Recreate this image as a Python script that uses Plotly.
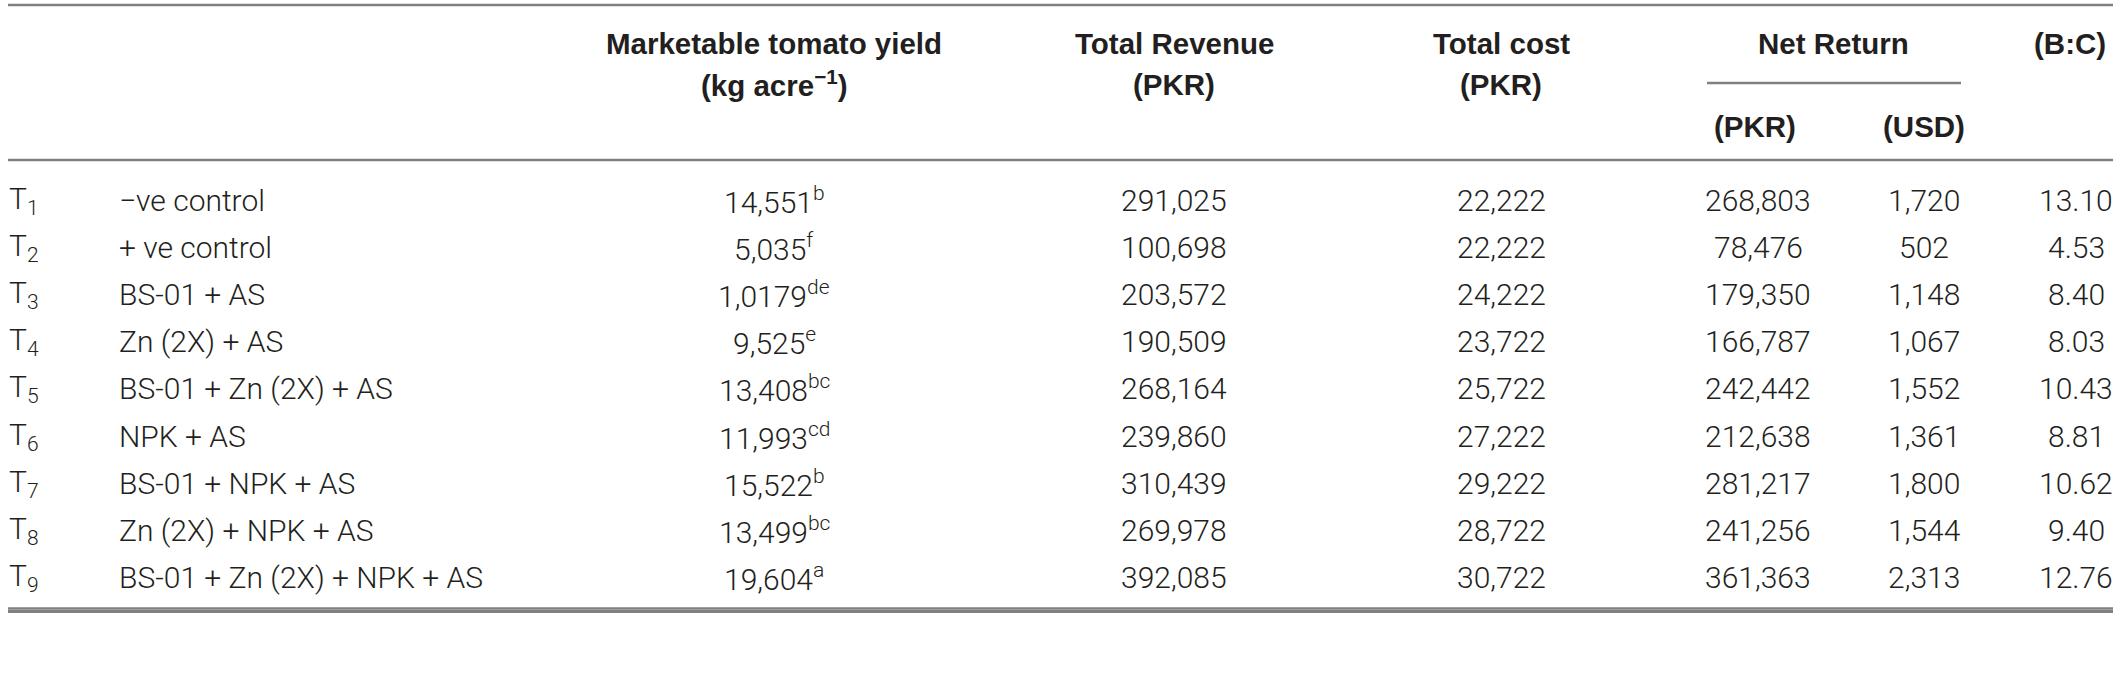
import plotly.graph_objects as go

# ---- data ----
codes = ["1", "2", "3", "4", "5", "6", "7", "8", "9"]
treatments = ["\u2212ve control", "+ ve control", "BS-01 + AS", "Zn (2X) + AS",
              "BS-01 + Zn (2X) + AS", "NPK + AS", "BS-01 + NPK + AS",
              "Zn (2X) + NPK + AS", "BS-01 + Zn (2X) + NPK + AS"]
yield_text = ["14,551", "5,035", "1,0179", "9,525", "13,408", "11,993", "15,522", "13,499", "19,604"]
yield_letters = ["b", "f", "de", "e", "bc", "cd", "b", "bc", "a"]
revenue = [291025, 100698, 203572, 190509, 268164, 239860, 310439, 269978, 392085]
cost = [22222, 22222, 24222, 23722, 25722, 27222, 29222, 28722, 30722]
net_pkr = [268803, 78476, 179350, 166787, 242442, 212638, 281217, 241256, 361363]
net_usd = [1720, 502, 1148, 1067, 1552, 1361, 1800, 1544, 2313]
bc_ratio = [13.10, 4.53, 8.40, 8.03, 10.43, 8.81, 10.62, 9.40, 12.76]

footnote_1 = ("Values with different superscript letters show a significant difference "
              "(<i>p</i> \u2264 0.05) in the mean value of yield obtained from replicates as "
              "determined by the LSD test. \u2212ve")
footnote_2 = ("control, without inoculation of AS and nutrient application; +ve control, "
              "with inoculation of AS only (foliar application).")

# ---- layout constants ----
W, H = 2121, 696
TXT = "#231f20"
LINE = "#808080"
LIGHT = "Roboto Light, Roboto, Liberation Sans, Arial"
BODY = dict(family=LIGHT, size=30, color=TXT, weight=300)
HEAD = dict(family="Liberation Sans, Arial", size=29.5, color=TXT, weight=700)
FOOT = dict(family=LIGHT, size=30, color=TXT, weight=300, style="italic")

X_L, X_R = 8, 2113          # table rule extent
Y_BOTTOM = 610              # table bottom rule (plot-area bottom)
X_CODE, X_NAME = 8, 118
X_YIELD, X_REV, X_COST, X_PKR, X_USD, X_BC = 774, 1174, 1501, 1758, 1924, 2076
ROW0, ROWSTEP = 200, 47.2

fig = go.Figure()
ann = []

def add(x, y, text, font, xanchor="center"):
    ann.append(dict(x=x, y=y, xref="x", yref="y", text=text, showarrow=False,
                    xanchor=xanchor, yanchor="middle", font=font, align="left",
                    bgcolor="rgba(0,0,0,0)", borderpad=0))

def add_paper(x, ypix, text, font):
    ann.append(dict(x=x, y=1 - ypix / H, xref="x", yref="paper", text=text, showarrow=False,
                    xanchor="left", yanchor="middle", font=font, align="left",
                    bgcolor="rgba(0,0,0,0)", borderpad=0))

# header
add(5, 43, "Treatments", HEAD, "left")
add(X_YIELD, 43, "Marketable tomato yield", HEAD)
add(X_YIELD, 83, "(kg acre<sup>\u22121</sup>)", HEAD)
add(X_REV, 43, "Total Revenue", HEAD)
add(X_REV, 84, "(PKR)", HEAD)
add(X_COST, 43, "Total cost", HEAD)
add(X_COST, 84, "(PKR)", HEAD)
add((X_PKR + X_USD) / 2 - 8, 43, "Net Return", HEAD)
add(X_PKR - 3, 126, "(PKR)", HEAD)
add(X_USD, 126, "(USD)", HEAD)
add(2070, 43, "(B:C)", HEAD)

# rows
for i in range(len(codes)):
    y = ROW0 + ROWSTEP * i
    add(X_CODE, y, f"T<sub>{codes[i]}</sub>", BODY, "left")
    add(X_NAME, y, treatments[i], BODY, "left")
    add(X_YIELD, y, f"{yield_text[i]}<sup>{yield_letters[i]}</sup>", BODY)
    add(X_REV, y, f"{revenue[i]:,}", BODY)
    add(X_COST, y, f"{cost[i]:,}", BODY)
    add(X_PKR, y, f"{net_pkr[i]:,}", BODY)
    add(X_USD, y, f"{net_usd[i]:,}", BODY)
    add(X_BC, y, f"{bc_ratio[i]:.2f}", BODY)

add_paper(5, 636, footnote_1, FOOT)
add_paper(5, 671, footnote_2, FOOT)

# horizontal rules: top, net-return underline, header bottom (bottom rule = x-axis line)
rules = [(X_L, X_R, 5), (1707, 1961, 83), (X_L, X_R, 160), (X_L, X_R, Y_BOTTOM - 1.5)]
shapes = []
for x0, x1, y in rules:
    shapes.append(dict(type="line", xref="x", yref="y", x0=x0, x1=x1,
                       y0=y, y1=y, layer="above", line=dict(color=LINE, width=2.5)))

fig.update_layout(
    width=W, height=H, margin=dict(l=0, r=0, t=0, b=0),
    paper_bgcolor="white", plot_bgcolor="white",
    xaxis=dict(range=[X_L, X_R], domain=[X_L / W, X_R / W], fixedrange=True,
               showline=True, linecolor=LINE, linewidth=2.5, mirror=False,
               showticklabels=False, ticks="", showgrid=False, zeroline=False),
    yaxis=dict(range=[Y_BOTTOM, 0], domain=[1 - Y_BOTTOM / H, 1], visible=False,
               fixedrange=True),
    annotations=ann, shapes=shapes, showlegend=False,
)
fig.write_html("out.html", config={"displayModeBar": False},
               post_script="document.body.style.margin='0px';document.body.style.overflow='hidden';")
